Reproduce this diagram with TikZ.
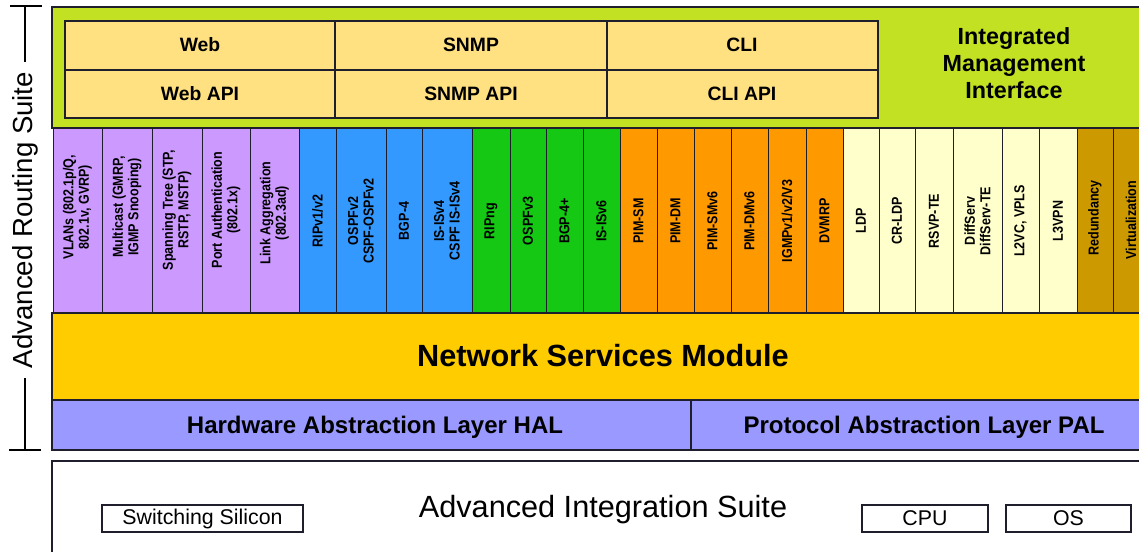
\documentclass[tikz,border=0pt]{standalone}
\usepackage{fontspec}
\setmainfont{Liberation Sans}
\newfontfamily\colfont{Liberation Sans}[FakeStretch=0.87]
\usetikzlibrary{positioning}

\definecolor{mgmtgreen}{RGB}{195,225,35}
\definecolor{apiyellow}{RGB}{255,225,130}
\definecolor{l2lilac}{RGB}{204,153,255}
\definecolor{v4blue}{RGB}{51,153,255}
\definecolor{v6green}{RGB}{20,200,20}
\definecolor{mcorange}{RGB}{255,153,0}
\definecolor{mplscream}{RGB}{255,255,204}
\definecolor{hagold}{RGB}{204,153,0}
\definecolor{nsmyellow}{RGB}{255,204,0}
\definecolor{absblue}{RGB}{153,153,255}
\definecolor{edge}{RGB}{30,30,45}

\begin{document}
\begin{tikzpicture}[x=0.75pt, y=-0.75pt,
    box/.style={draw=edge, line width=0.8pt},
    colbox/.style={draw=edge, line width=0.7pt},
    coltext/.style={rotate=90, align=center, inner sep=1pt,
        font=\colfont\bfseries\fontsize{10.8pt}{11.6pt}\selectfont},
    apilabel/.style={font=\bfseries\fontsize{14.5pt}{17pt}\selectfont},
    barlabel/.style={font=\bfseries\fontsize{18pt}{21pt}\selectfont},
    chip/.style={draw=edge, line width=0.9pt, minimum height=27*0.75pt,
        inner sep=0pt, font=\fontsize{16pt}{19pt}\selectfont}]

    \useasboundingbox (0,0) rectangle (1139,552);
    \clip (0,0) rectangle (1139,552);

    % --- management interfaces (top) ---
    \draw[box, fill=mgmtgreen] (52,7) rectangle (1150,128);
    \draw[box, fill=apiyellow] (65,21) rectangle (878,118);
    \draw[box] (65,70) -- (878,70);
    \draw[box] (335,21) -- (335,118);
    \draw[box] (607,21) -- (607,118);
    \node[apilabel] (web)     at (200,45) {Web};
    \node[apilabel] (webapi)  at (200,94) {Web API};
    \node[apilabel] (snmp)    at (471,45) {SNMP};
    \node[apilabel] (snmpapi) at (471,94) {SNMP API};
    \node[apilabel] (cli)     at (742,45) {CLI};
    \node[apilabel] (cliapi)  at (742,94) {CLI API};
    \node[align=center, font=\bfseries\fontsize{17.5pt}{20pt}\selectfont] (imi)
        at (1014,63) {Integrated\\Management\\Interface};

    % --- layer 2 ---
    \draw[colbox, fill=l2lilac] (53,128) rectangle (102,313);
    \draw[colbox, fill=l2lilac] (102,128) rectangle (152,313);
    \draw[colbox, fill=l2lilac] (152,128) rectangle (202,313);
    \draw[colbox, fill=l2lilac] (202,128) rectangle (250,313);
    \draw[colbox, fill=l2lilac] (250,128) rectangle (299,313);
    \node[coltext] (vlan)  at (77.5,207) {VLANs (802.1p/Q,\\802.1v, GVRP)};
    \node[coltext] (mcast) at (127,207) {Multicast (GMRP,\\IGMP Snooping)};
    \node[coltext] (stp)   at (177,210) {Spanning Tree (STP,\\RSTP, MSTP)};
    \node[coltext] (pauth) at (226,210) {Port Authentication\\(802.1x)};
    \node[coltext] (lag)   at (274.5,213) {Link Aggregation\\(802.3ad)};

    % --- IPv4 routing ---
    \draw[colbox, fill=v4blue] (299,128) rectangle (336,313);
    \draw[colbox, fill=v4blue] (336,128) rectangle (386,313);
    \draw[colbox, fill=v4blue] (386,128) rectangle (422,313);
    \draw[colbox, fill=v4blue] (422,128) rectangle (472,313);
    \node[coltext] (rip)   at (317.5,221) {RIPv1/v2};
    \node[coltext] (ospf2) at (361,221) {OSPFv2\\CSPF-OSPFv2};
    \node[coltext] (bgp4)  at (404,221) {BGP-4};
    \node[coltext] (isis4) at (447,221) {IS-ISv4\\CSPF IS-ISv4};

    % --- IPv6 routing ---
    \draw[colbox, fill=v6green] (472,128) rectangle (510,313);
    \draw[colbox, fill=v6green] (510,128) rectangle (546,313);
    \draw[colbox, fill=v6green] (546,128) rectangle (583,313);
    \draw[colbox, fill=v6green] (583,128) rectangle (620,313);
    \node[coltext] (ripng) at (491,221) {RIPng};
    \node[coltext] (ospf3) at (528,221) {OSPFv3};
    \node[coltext] (bgp4p) at (564.5,221) {BGP-4+};
    \node[coltext] (isis6) at (601.5,221) {IS-ISv6};

    % --- multicast ---
    \draw[colbox, fill=mcorange] (620,128) rectangle (657,313);
    \draw[colbox, fill=mcorange] (657,128) rectangle (694,313);
    \draw[colbox, fill=mcorange] (694,128) rectangle (731,313);
    \draw[colbox, fill=mcorange] (731,128) rectangle (768,313);
    \draw[colbox, fill=mcorange] (768,128) rectangle (806,313);
    \draw[colbox, fill=mcorange] (806,128) rectangle (843,313);
    \node[coltext] (pimsm)   at (638.5,221) {PIM-SM};
    \node[coltext] (pimdm)   at (675.5,221) {PIM-DM};
    \node[coltext] (pimsm6)  at (712.5,221) {PIM-SMv6};
    \node[coltext] (pimdm6)  at (749.5,221) {PIM-DMv6};
    \node[coltext] (igmp)    at (787,221) {IGMPv1/v2/V3};
    \node[coltext] (dvmrp)   at (824.5,221) {DVMRP};

    % --- MPLS / QoS / VPN ---
    \draw[colbox, fill=mplscream] (843,128) rectangle (879,313);
    \draw[colbox, fill=mplscream] (879,128) rectangle (915,313);
    \draw[colbox, fill=mplscream] (915,128) rectangle (953,313);
    \draw[colbox, fill=mplscream] (953,128) rectangle (1002,313);
    \draw[colbox, fill=mplscream] (1002,128) rectangle (1039,313);
    \draw[colbox, fill=mplscream] (1039,128) rectangle (1077,313);
    \node[coltext] (ldp)   at (861,221) {LDP};
    \node[coltext] (crldp) at (897,221) {CR-LDP};
    \node[coltext] (rsvp)  at (934,221) {RSVP-TE};
    \node[coltext] (diff)  at (977.5,221) {DiffServ\\DiffServ-TE};
    \node[coltext] (l2vc)  at (1020.5,221) {L2VC, VPLS};
    \node[coltext] (l3vpn) at (1058,221) {L3VPN};

    % --- high availability ---
    \draw[colbox, fill=hagold] (1077,128) rectangle (1113,313);
    \draw[colbox, fill=hagold] (1113,128) rectangle (1150,313);
    \node[coltext] (redund) at (1095,218) {Redundancy};
    \node[coltext] (virt)   at (1131,220) {Virtualization};

    % --- services and abstraction layers ---
    \draw[box, fill=nsmyellow] (52,313) rectangle (1150,400);
    \node[font=\bfseries\fontsize{23pt}{27pt}\selectfont] (nsm) at (603,356) {Network Services Module};
    \draw[box, fill=absblue] (52,400) rectangle (691,450);
    \draw[box, fill=absblue] (691,400) rectangle (1150,450);
    \node[barlabel] (hal) at (375,427) {Hardware Abstraction Layer HAL};
    \node[barlabel] (pal) at (924,427) {Protocol Abstraction Layer PAL};

    % --- integration suite (bottom) ---
    \draw[draw=edge, line width=1.4pt] (52,560) -- (52,461) -- (1150,461);
    \node[font=\fontsize{23pt}{27pt}\selectfont] (ais) at (603,510) {Advanced Integration Suite};
    \node[chip, minimum width=201*0.75pt] (silicon) at (202.5,518.5) {Switching Silicon};
    \node[chip, minimum width=126*0.75pt] (cpu) at (925,518.5) {CPU};
    \node[chip, minimum width=125*0.75pt] (os) at (1068.5,518.5) {OS};

    % --- routing suite bracket ---
    \node[rotate=90, inner xsep=7pt, inner ysep=0pt, font=\fontsize{20.7pt}{24pt}\selectfont]
        (ars) at (25,220) {Advanced Routing Suite};
    \coordinate (arstop) at (25,6);
    \coordinate (arsbot) at (25,450);
    \draw[line width=0.8pt] (10,6) -- (42,6);
    \draw[line width=0.8pt] (9,450) -- (41,450);
    \draw[line width=0.8pt] (arstop) -- (ars.east);
    \draw[line width=0.8pt] (ars.west) -- (arsbot);
\end{tikzpicture}
\end{document}
